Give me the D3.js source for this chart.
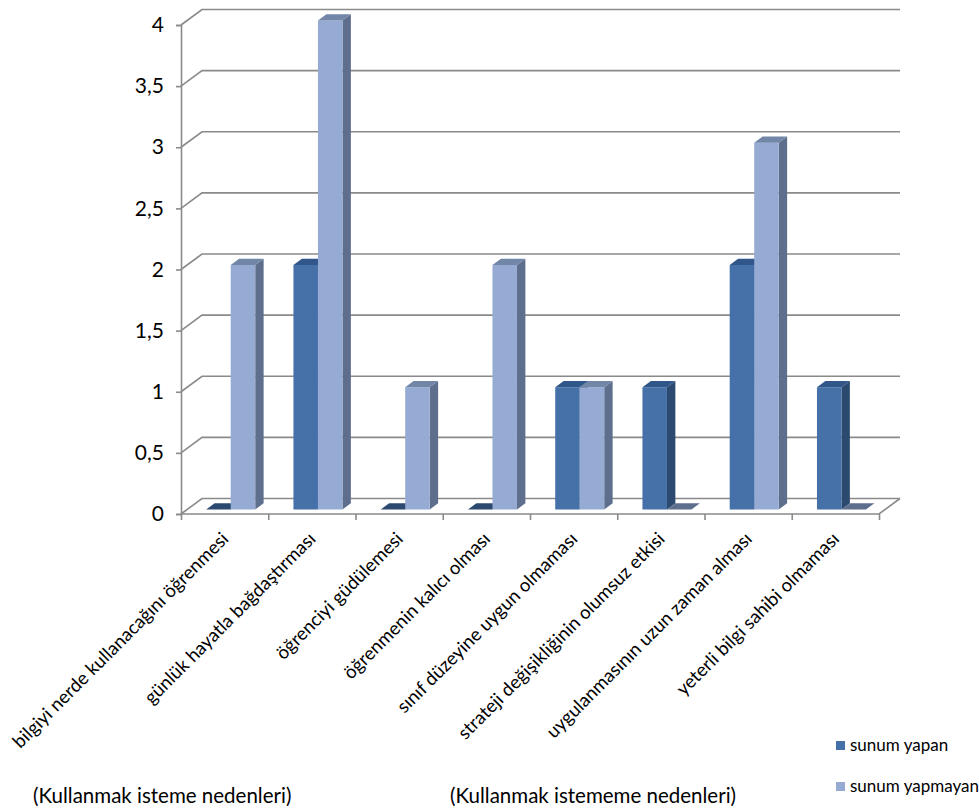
<!DOCTYPE html>
<html>
<head>
<meta charset="utf-8">
<script src="https://cdn.jsdelivr.net/npm/d3@7/dist/d3.min.js"></script>
<style>
  html, body { margin: 0; padding: 0; background: #fff; }
  svg { display: block; }
  text { font-family: Lato, "Open Sans", sans-serif; fill: #000; }
</style>
</head>
<body>
<svg id="chart" width="979" height="812"></svg>
<script>
// Reasons for wanting / not wanting to use the method
const categories = [
  "bilgiyi nerde kullanacağını öğrenmesi",
  "günlük hayatla bağdaştırması",
  "öğrenciyi güdülemesi",
  "öğrenmenin kalıcı olması",
  "sınıf düzeyine uygun olmaması",
  "strateji değişikliğinin olumsuz etkisi",
  "uygulanmasının uzun zaman alması",
  "yeterli bilgi sahibi olmaması"
];
const seriesNames = ["sunum yapan", "sunum yapmayan"];
const sunumYapan = [0, 2, 0, 0, 1, 1, 2, 1];
const sunumYapmayan = [2, 4, 1, 2, 1, 0, 3, 0];
const yTicks = [0, 0.5, 1, 1.5, 2, 2.5, 3, 3.5, 4];
const groupNotes = ["(Kullanmak isteme nedenleri)", "(Kullanmak istememe nedenleri)"];

const seriesValues = [sunumYapan, sunumYapmayan];

// face colours for each series: front, side, top
const palette = [
  { front: "#4571a8", side: "#2c4a70", top: "#31568a" },
  { front: "#95abd3", side: "#5e6e8d", top: "#7286a8" }
];

const svg = d3.select("#chart");

// front plane geometry
const x0 = 181, x1 = 879;
const yScale = d3.scaleLinear().domain([0, 4]).range([514, 25]);
const x = d3.scaleBand().domain(d3.range(categories.length)).range([x0, x1]).padding(0);
const xs = d3.scaleBand().domain([0, 1]).range([0, x.bandwidth()]).paddingInner(0).paddingOuter(0.78);

// oblique depth direction (full depth of the plot box)
const DX = 21, DY = -15.5;
const proj = (px, v, t) => [px + t * DX, yScale(v) + t * DY];
const pts = arr => arr.map(p => p.join(",")).join(" ");

const gridColor = "#8a8a8a";

// back wall gridlines with their diagonal on the left side wall
const grid = svg.append("g");
yTicks.forEach(v => {
  const a = proj(x0, v, 0), b = proj(x0, v, 1), c = proj(x1, v, 1);
  grid.append("polyline")
    .attr("points", pts([a, b, c]))
    .attr("fill", "none").attr("stroke", gridColor).attr("stroke-width", 1.6);
});

// floor outline
const fl = [proj(x0, 0, 0), proj(x1, 0, 0), proj(x1, 0, 1)];
svg.append("polyline").attr("points", pts(fl))
  .attr("fill", "none").attr("stroke", gridColor).attr("stroke-width", 1.6);

// vertical value axis and its ticks
const yAxis = d3.axisLeft(yScale).tickValues(yTicks).tickSize(5).tickPadding(12)
  .tickFormat(d => String(d).replace(".", ","));
const gy = svg.append("g").attr("transform", `translate(${x0},0)`).call(yAxis);
gy.select(".domain").attr("stroke", gridColor).attr("stroke-width", 1.6);
gy.selectAll(".tick line").attr("stroke", gridColor).attr("stroke-width", 1.6);
gy.selectAll(".tick text").style("font-size", "21px").attr("fill", "#000");

// category axis ticks along the front floor edge
const xAxis = d3.axisBottom(d3.scaleLinear().domain([0, categories.length]).range([x0, x1]))
  .tickValues(d3.range(categories.length + 1)).tickSize(6).tickFormat("");
const gx = svg.append("g").attr("transform", `translate(0,${yScale(0)})`).call(xAxis);
gx.select(".domain").remove();
gx.selectAll(".tick line").attr("stroke", gridColor).attr("stroke-width", 1.6);

// 3D bars: front face at depth tf, back at tb
const tf = 0.29, tb = 0.69;
const bars = svg.append("g");
categories.forEach((c, i) => {
  seriesValues.forEach((vals, s) => {
    const v = vals[i];
    const left = x(i) + xs(s), right = left + xs.bandwidth();
    const col = palette[s];
    const fl0 = proj(left, 0, tf), fr0 = proj(right, 0, tf);
    const flv = proj(left, v, tf), frv = proj(right, v, tf);
    const brv = proj(right, v, tb), blv = proj(left, v, tb), br0 = proj(right, 0, tb);
    const g = bars.append("g");
    if (v > 0) {
      g.append("polygon").attr("points", pts([fr0, frv, brv, br0])).attr("fill", col.side);
      g.append("polygon").attr("points", pts([fl0, fr0, frv, flv])).attr("fill", col.front);
    }
    g.append("polygon").attr("points", pts([flv, frv, brv, blv]))
      .attr("fill", v > 0 ? col.top : col.side);
  });
});

// rotated category labels
const labels = svg.append("g");
categories.forEach((c, i) => {
  const cx = x(i) + x.bandwidth() / 2 + 5;
  const cy = 540;
  labels.append("text")
    .attr("transform", `translate(${cx},${cy}) rotate(-45)`)
    .attr("text-anchor", "end")
    .style("font-size", "18.5px")
    .text(c);
});

// group notes under the labels
svg.append("text").attr("x", 33).attr("y", 803).style("font-size", "20.5px").text(groupNotes[0]);
svg.append("text").attr("x", 450).attr("y", 803).style("font-size", "20.5px").text(groupNotes[1]);

// legend
const legend = svg.append("g");
seriesNames.forEach((n, s) => {
  const ly = 746 + s * 41;
  legend.append("rect").attr("x", 836).attr("y", ly - 5).attr("width", 9).attr("height", 9)
    .attr("fill", palette[s].front);
  legend.append("text").attr("x", 850).attr("y", ly + 5).style("font-size", "17px").text(n);
});
</script>
</body>
</html>
